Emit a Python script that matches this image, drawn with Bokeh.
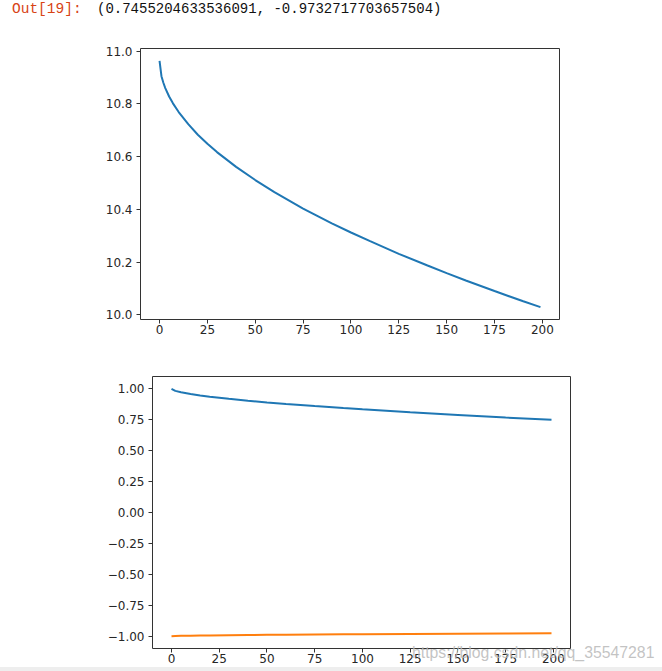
from bokeh.plotting import figure
from bokeh.layouts import column, row
from bokeh.models import Div, Range1d, FixedTicker, Spacer
from bokeh.embed import file_html
from bokeh.resources import INLINE

# ---------------- data ----------------
OUT_PROMPT = "Out[19]:"
OUT_VALUES = (0.7455204633536091, -0.9732717703657504)

iters_top = [0, 1, 2, 3, 5, 7, 10, 15, 20, 25, 30, 40, 50, 60, 75, 90, 100,
             110, 125, 140, 150, 160, 175, 190, 199]
cost = [10.963, 10.905, 10.880, 10.860, 10.828, 10.802, 10.769, 10.723, 10.683,
        10.649, 10.617, 10.561, 10.511, 10.465, 10.403, 10.347, 10.312, 10.279,
        10.231, 10.187, 10.158, 10.130, 10.090, 10.051, 10.029]

iters_bottom = [0, 2, 5, 10, 15, 20, 30, 40, 50, 60, 75, 90, 100, 125, 150, 175, 199]
series_a = [0.995, 0.979, 0.968, 0.954, 0.942, 0.932, 0.915, 0.900, 0.886, 0.8735,
            0.856, 0.840, 0.830, 0.806, 0.785, 0.764, 0.7455]
series_b = [-0.997, -0.9955, -0.9944, -0.9931, -0.9920, -0.9910, -0.9894, -0.9880,
            -0.9867, -0.9855, -0.9838, -0.9823, -0.9813, -0.9791, -0.9770, -0.9751,
            -0.9733]

x_ticks = [0, 25, 50, 75, 100, 125, 150, 175, 200]
top_y_ticks = [10.0, 10.2, 10.4, 10.6, 10.8, 11.0]
top_y_labels = ["10.0", "10.2", "10.4", "10.6", "10.8", "11.0"]
bot_y_ticks = [-1.0, -0.75, -0.5, -0.25, 0.0, 0.25, 0.5, 0.75, 1.0]
bot_y_labels = ["\u22121.00", "\u22120.75", "\u22120.50", "\u22120.25", "0.00",
                "0.25", "0.50", "0.75", "1.00"]
WATERMARK = "https://blog.csdn.net/qq_35547281"

BLUE = "#1f77b4"
ORANGE = "#ff7f0e"
SPINE = "#333333"
TICK_TXT = "#262626"


def styled_fig(x_range, y_range, fw, fh, bl, br, bt, bb):
    p = figure(output_backend="svg", toolbar_location=None,
               frame_width=fw, frame_height=fh,
               min_border_left=bl, min_border_right=br,
               min_border_top=bt, min_border_bottom=bb,
               x_range=x_range, y_range=y_range, margin=0)
    p.background_fill_color = "white"
    p.border_fill_color = "white"
    p.outline_line_color = SPINE
    p.outline_line_width = 1
    p.grid.visible = False
    for ax in (p.xaxis[0], p.yaxis[0]):
        ax.axis_line_color = None
        ax.major_tick_in = 0
        ax.major_tick_out = 4
        ax.major_tick_line_color = SPINE
        ax.minor_tick_line_color = None
        ax.major_label_text_font = "DejaVu Sans"
        ax.major_label_text_font_size = "12px"
        ax.major_label_text_color = TICK_TXT
    p.xaxis[0].major_label_standoff = 1
    p.yaxis[0].major_label_standoff = 4
    p.xaxis[0].ticker = FixedTicker(ticks=x_ticks)
    return p


# ---------------- header text (and page watermark overlay) ----------------
header_html = (
    '<div style="position:relative;top:-1px;left:12px;white-space:pre;'
    "font-family:'Liberation Mono',monospace;font-size:14px;color:#111;\">"
    '<span style="display:inline-block;width:85px;color:#d84315;font-size:14.5px">%s</span>'
    '<span>%s</span>'
    '<div style="position:absolute;top:643px;left:400px;z-index:50;white-space:pre;'
    "font-family:'Liberation Sans',Arial,sans-serif;font-size:15.8px;"
    'color:rgba(185,185,185,0.85);pointer-events:none;">%s</div>'
    '<div style="position:absolute;top:668px;left:-12px;width:662px;height:4px;'
    'background:#eeeeee;z-index:40;"></div>'
    '</div>'
    % (OUT_PROMPT, str(OUT_VALUES), WATERMARK)
)
header = Div(text=header_html, width=500, height=22, margin=0)

# ---------------- top plot ----------------
p1 = styled_fig(Range1d(-9.95, 208.95), Range1d(9.982, 11.010),
                419, 271, 140, 20, 26, 31)
p1.yaxis[0].ticker = FixedTicker(ticks=top_y_ticks)
p1.yaxis[0].major_label_overrides = dict(zip(top_y_ticks, top_y_labels))
p1.line(iters_top, cost, line_color=BLUE, line_width=2)

# ---------------- bottom plot ----------------
p2 = styled_fig(Range1d(-9.95, 208.95), Range1d(-1.0966, 1.0946),
                418, 272, 140, 92, 26, 23)
p2.yaxis[0].ticker = FixedTicker(ticks=bot_y_ticks)
p2.yaxis[0].major_label_overrides = dict(zip(bot_y_ticks, bot_y_labels))
p2.line(iters_bottom, series_a, line_color=BLUE, line_width=2)
p2.line(iters_bottom, series_b, line_color=ORANGE, line_width=2)

bottom_row = row(Spacer(width=12, height=10, margin=0), p2, spacing=0, margin=0)
layout = column(header, p1, bottom_row, spacing=0, margin=0)

open("out.html", "w").write(file_html(layout, INLINE))
